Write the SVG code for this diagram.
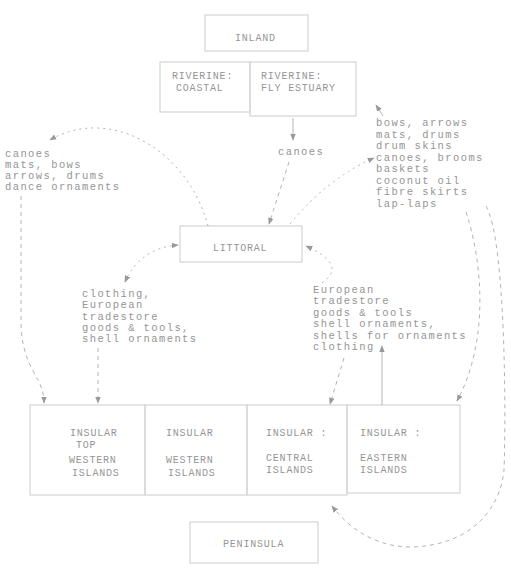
<svg xmlns="http://www.w3.org/2000/svg" width="511" height="569" viewBox="0 0 511 569">
<defs>
<marker id="ah" viewBox="0 0 10 10" refX="9" refY="5" markerWidth="7" markerHeight="7" orient="auto-start-reverse" markerUnits="userSpaceOnUse">
<path d="M0,1 L10,5 L0,9 Z" fill="#999"/>
</marker>
<style>
.box{fill:none;stroke:#d4d4d4;stroke-width:1.2}
.lbl{font-family:"Liberation Mono","DejaVu Sans Mono",monospace;font-size:10px;letter-spacing:0.8px;fill:#959595}
.txt{font-family:"Liberation Mono","DejaVu Sans Mono",monospace;font-size:10.5px;letter-spacing:1.4px;fill:#959595}
.c{fill:none;stroke:#b4b4b4;stroke-width:1}
.d{stroke-dasharray:4 4}
.s{stroke-dasharray:2 4}
</style>
</defs>
<rect width="511" height="569" fill="#fff"/>

<g id="inland"><rect class="box" x="205" y="15" width="103" height="36"/><text class="lbl" x="235" y="41">INLAND</text></g>
<g id="riverine-coastal"><rect class="box" x="160" y="62" width="90" height="50"/><text class="lbl" x="172" y="79">RIVERINE:</text><text class="lbl" x="176" y="91">COASTAL</text></g>
<g id="riverine-fly"><rect class="box" x="250" y="62" width="106" height="54"/><text class="lbl" x="261" y="79">RIVERINE:</text><text class="lbl" x="261" y="91">FLY ESTUARY</text></g>
<g id="littoral"><rect class="box" x="180" y="226" width="122" height="36"/><text class="lbl" x="213" y="251">LITTORAL</text></g>
<g id="insular-top-western"><rect class="box" x="30" y="405" width="115" height="90"/><text class="lbl" x="70" y="436">INSULAR</text><text class="lbl" x="76" y="448">TOP</text><text class="lbl" x="69" y="463">WESTERN</text><text class="lbl" x="72" y="476">ISLANDS</text></g>
<g id="insular-western"><rect class="box" x="145" y="405" width="102" height="90"/><text class="lbl" x="166" y="436">INSULAR</text><text class="lbl" x="166" y="463">WESTERN</text><text class="lbl" x="168" y="476">ISLANDS</text></g>
<g id="insular-central"><rect class="box" x="247" y="405" width="100" height="90"/><text class="lbl" x="266" y="436">INSULAR :</text><text class="lbl" x="266" y="461">CENTRAL</text><text class="lbl" x="266" y="473">ISLANDS</text></g>
<g id="insular-eastern"><rect class="box" x="347" y="405" width="113" height="88"/><text class="lbl" x="360" y="436">INSULAR :</text><text class="lbl" x="360" y="461">EASTERN</text><text class="lbl" x="360" y="473">ISLANDS</text></g>
<g id="peninsula"><rect class="box" x="190" y="522" width="128" height="41"/><text class="lbl" x="223" y="547">PENINSULA</text></g>

<g id="labels">
<text class="txt" x="278" y="155">canoes</text>
<text class="txt" x="5" y="157">canoes</text>
<text class="txt" x="5" y="168">mats, bows</text>
<text class="txt" x="5" y="179">arrows, drums</text>
<text class="txt" x="5" y="190">dance ornaments</text>
<text class="txt" x="376" y="126">bows, arrows</text>
<text class="txt" x="376" y="138">mats, drums</text>
<text class="txt" x="376" y="149">drum skins</text>
<text class="txt" x="376" y="161">canoes, brooms</text>
<text class="txt" x="376" y="172">baskets</text>
<text class="txt" x="376" y="184">coconut oil</text>
<text class="txt" x="376" y="195">fibre skirts</text>
<text class="txt" x="376" y="207">lap-laps</text>
<text class="txt" x="82" y="297">clothing,</text>
<text class="txt" x="82" y="308">European</text>
<text class="txt" x="82" y="320">tradestore</text>
<text class="txt" x="82" y="331">goods &amp; tools,</text>
<text class="txt" x="82" y="342">shell ornaments</text>
<text class="txt" x="313" y="293">European</text>
<text class="txt" x="313" y="304">tradestore</text>
<text class="txt" x="313" y="316">goods &amp; tools</text>
<text class="txt" x="313" y="327">shell ornaments,</text>
<text class="txt" x="313" y="339">shells for ornaments</text>
<text class="txt" x="313" y="350">clothing</text>
</g>

<g id="connectors">
<path class="c" d="M293 118 L293 140" marker-end="url(#ah)"/>
<path class="c d" d="M289 162 L269 224" marker-end="url(#ah)"/>
<path class="c s" d="M290 224 Q328 178 374 158" marker-end="url(#ah)"/>
<path class="c" d="M383 116 L376 105" marker-end="url(#ah)"/>
<path class="c s" d="M208 226 C188 150 110 105 50 140" marker-end="url(#ah)"/>
<path class="c d" d="M21 196 L21 320 C21 370 44 375 44 403" marker-end="url(#ah)"/>
<path class="c s" d="M125 282 Q140 248 178 245" marker-start="url(#ah)" marker-end="url(#ah)"/>
<path class="c d" d="M98 348 L98 403" marker-end="url(#ah)"/>
<path class="c s" d="M322 283 Q348 265 306 246" marker-end="url(#ah)"/>
<path class="c" d="M382 405 L382 346" marker-end="url(#ah)"/>
<path class="c d" d="M344 358 L330 404" marker-end="url(#ah)"/>
<path class="c d" d="M466 212 C482 260 490 340 457 401" marker-end="url(#ah)"/>
<path class="c d" d="M486 206 C506 240 506 420 504 470 C500 512 468 546 410 547 C378 547 350 530 332 506" marker-end="url(#ah)"/>
</g>
</svg>
